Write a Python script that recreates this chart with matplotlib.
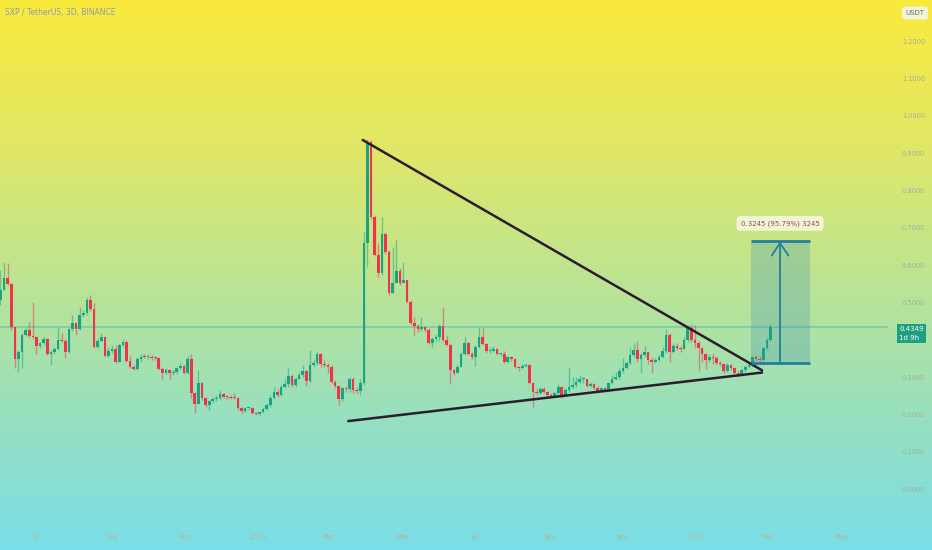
import numpy as np
import pandas as pd
import matplotlib
matplotlib.use("Agg")
import matplotlib.pyplot as plt
import matplotlib.dates as mdates
from matplotlib.patches import Rectangle

# =====================================================
# Data (SXP / USDT, 3D candles)
# =====================================================

start_date = "2022-05-31"
first_open = 0.506

close = [
    0.533, 0.564, 0.549, 0.433, 0.349, 0.367, 0.413, 0.426, 0.410, 0.406,
    0.384, 0.390, 0.401, 0.363, 0.368, 0.376, 0.399, 0.397, 0.368, 0.428,
    0.446, 0.428, 0.465, 0.471, 0.506, 0.481, 0.381, 0.397, 0.408, 0.356,
    0.370, 0.376, 0.341, 0.386, 0.394, 0.343, 0.326, 0.321, 0.347, 0.354,
    0.353, 0.354, 0.352, 0.350, 0.321, 0.312, 0.319, 0.310, 0.314, 0.323,
    0.329, 0.312, 0.347, 0.256, 0.229, 0.285,
    0.243, 0.225, 0.237, 0.240, 0.243, 0.254, 0.247, 0.246, 0.245, 0.243,
    0.216, 0.210, 0.216, 0.218, 0.203, 0.201, 0.207, 0.214, 0.225, 0.243,
    0.261, 0.252, 0.272, 0.281, 0.304, 0.279, 0.296, 0.305, 0.317, 0.290,
    0.332, 0.337, 0.362, 0.335, 0.332, 0.326, 0.288, 0.276, 0.240, 0.270,
    0.267, 0.296, 0.265, 0.263, 0.285, 0.658, 0.930, 0.728, 0.627, 0.578,
    0.683, 0.636, 0.524,
    0.553, 0.585, 0.551, 0.560, 0.502, 0.444, 0.437, 0.428, 0.433, 0.426,
    0.392, 0.401, 0.408, 0.437, 0.399, 0.386, 0.319, 0.312, 0.328, 0.362,
    0.392, 0.362, 0.353, 0.380, 0.406, 0.388, 0.371, 0.371, 0.375, 0.362,
    0.362, 0.341, 0.353, 0.347, 0.328, 0.323, 0.330, 0.332, 0.285, 0.261,
    0.258, 0.267, 0.261, 0.252, 0.249, 0.256, 0.274, 0.252, 0.265, 0.272,
    0.279, 0.288,
    0.294, 0.296, 0.276, 0.281, 0.270, 0.263, 0.270, 0.265, 0.283, 0.296,
    0.299, 0.317, 0.323, 0.337, 0.359, 0.372, 0.347, 0.359, 0.366, 0.346,
    0.340, 0.346, 0.353, 0.371, 0.413, 0.368, 0.384, 0.377, 0.374, 0.399,
    0.430, 0.399, 0.392, 0.377, 0.362, 0.346, 0.353, 0.350, 0.337, 0.335,
    0.317, 0.332, 0.323, 0.312, 0.305, 0.319, 0.328, 0.332, 0.353, 0.347,
    0.346, 0.377, 0.399, 0.4349,
]

high = [
    0.587, 0.609, 0.605, 0.551, 0.433, 0.372, 0.417, 0.430, 0.448, 0.502,
    0.410, 0.395, 0.406, 0.404, 0.372, 0.381, 0.435, 0.417, 0.401, 0.430,
    0.466, 0.448, 0.488, 0.480, 0.515, 0.521, 0.497, 0.404, 0.417, 0.410,
    0.381, 0.386, 0.386, 0.392, 0.401, 0.399, 0.359, 0.332, 0.353, 0.363,
    0.362, 0.363, 0.359, 0.356, 0.353, 0.326, 0.323, 0.321, 0.319, 0.328,
    0.337, 0.333, 0.356, 0.362, 0.261, 0.319,
    0.287, 0.247, 0.238, 0.247, 0.252, 0.265, 0.258, 0.252, 0.252, 0.258,
    0.247, 0.220, 0.220, 0.222, 0.220, 0.207, 0.210, 0.219, 0.231, 0.252,
    0.272, 0.267, 0.279, 0.294, 0.326, 0.308, 0.301, 0.314, 0.332, 0.319,
    0.372, 0.345, 0.368, 0.365, 0.345, 0.337, 0.332, 0.292, 0.279, 0.274,
    0.274, 0.299, 0.301, 0.274, 0.296, 0.689, 0.937, 0.935, 0.734, 0.658,
    0.728, 0.689, 0.640,
    0.649, 0.669, 0.591, 0.607, 0.560, 0.506, 0.462, 0.442, 0.462, 0.437,
    0.430, 0.406, 0.415, 0.442, 0.487, 0.413, 0.390, 0.321, 0.332, 0.368,
    0.408, 0.395, 0.368, 0.386, 0.435, 0.430, 0.392, 0.381, 0.383, 0.377,
    0.368, 0.371, 0.356, 0.356, 0.350, 0.329, 0.335, 0.337, 0.335, 0.287,
    0.270, 0.274, 0.272, 0.263, 0.256, 0.261, 0.281, 0.276, 0.270, 0.328,
    0.301, 0.301,
    0.305, 0.301, 0.294, 0.288, 0.285, 0.276, 0.274, 0.272, 0.288, 0.305,
    0.314, 0.323, 0.350, 0.344, 0.377, 0.392, 0.397, 0.365, 0.383, 0.368,
    0.353, 0.350, 0.362, 0.381, 0.428, 0.417, 0.392, 0.390, 0.383, 0.408,
    0.439, 0.442, 0.439, 0.397, 0.381, 0.365, 0.363, 0.365, 0.355, 0.344,
    0.337, 0.338, 0.335, 0.328, 0.317, 0.323, 0.332, 0.338, 0.356, 0.359,
    0.356, 0.381, 0.406, 0.442,
]

low = [
    0.493, 0.533, 0.546, 0.426, 0.323, 0.314, 0.323, 0.410, 0.406, 0.401,
    0.363, 0.379, 0.386, 0.359, 0.332, 0.363, 0.372, 0.395, 0.350, 0.365,
    0.424, 0.413, 0.426, 0.462, 0.466, 0.478, 0.379, 0.379, 0.395, 0.354,
    0.354, 0.365, 0.338, 0.341, 0.381, 0.340, 0.323, 0.319, 0.319, 0.341,
    0.350, 0.349, 0.346, 0.346, 0.319, 0.292, 0.308, 0.296, 0.305, 0.308,
    0.319, 0.308, 0.308, 0.243, 0.204, 0.228,
    0.238, 0.220, 0.212, 0.231, 0.237, 0.238, 0.245, 0.242, 0.242, 0.240,
    0.213, 0.203, 0.207, 0.213, 0.200, 0.198, 0.198, 0.204, 0.212, 0.220,
    0.240, 0.247, 0.249, 0.270, 0.274, 0.274, 0.274, 0.294, 0.301, 0.276,
    0.287, 0.328, 0.332, 0.328, 0.326, 0.311, 0.283, 0.270, 0.225, 0.237,
    0.261, 0.261, 0.258, 0.256, 0.252, 0.279, 0.596, 0.722, 0.624, 0.569,
    0.573, 0.629, 0.520,
    0.524, 0.551, 0.546, 0.551, 0.499, 0.439, 0.413, 0.421, 0.424, 0.421,
    0.388, 0.381, 0.395, 0.397, 0.395, 0.383, 0.281, 0.305, 0.312, 0.326,
    0.359, 0.359, 0.347, 0.329, 0.377, 0.386, 0.365, 0.365, 0.368, 0.359,
    0.356, 0.337, 0.337, 0.344, 0.323, 0.317, 0.321, 0.326, 0.281, 0.221,
    0.252, 0.254, 0.256, 0.247, 0.243, 0.245, 0.249, 0.245, 0.247, 0.261,
    0.267, 0.274,
    0.283, 0.285, 0.272, 0.272, 0.267, 0.258, 0.261, 0.261, 0.263, 0.281,
    0.292, 0.294, 0.311, 0.321, 0.332, 0.353, 0.341, 0.311, 0.353, 0.335,
    0.311, 0.338, 0.344, 0.350, 0.365, 0.341, 0.365, 0.372, 0.368, 0.374,
    0.395, 0.395, 0.377, 0.317, 0.341, 0.321, 0.341, 0.335, 0.332, 0.330,
    0.311, 0.314, 0.319, 0.308, 0.301, 0.303, 0.314, 0.323, 0.330, 0.344,
    0.341, 0.344, 0.372, 0.397,
]

last_price = 0.4349
countdown = "1d 9h"

# drawn trend lines (date, price)
upper_line_dates = ["2023-03-29", "2024-02-25"]
upper_line_prices = [0.935, 0.318]
lower_line_dates = ["2023-03-17", "2024-02-25"]
lower_line_prices = [0.182, 0.312]

# price range measure tool
measure_dates = ["2024-02-16", "2024-04-05"]
measure_mid = "2024-03-11"
measure_low = 0.3388
measure_high = 0.6633
measure_text = "0.3245 (95.79%) 3245"

# 0.4000 sits under the last-price label, so it is not shown
price_ticks = [0.0, 0.1, 0.2, 0.3, 0.5, 0.6, 0.7, 0.8, 0.9, 1.0, 1.1, 1.2]

time_ticks = [
    "2022-07-01", "2022-09-01", "2022-11-01", "2023-01-01",
    "2023-03-01", "2023-05-01", "2023-07-01", "2023-09-01",
    "2023-11-01", "2024-01-01", "2024-03-01", "2024-05-01",
]
time_labels = ["Jul", "Sep", "Nov", "2023", "Mar", "May",
               "Jul", "Sep", "Nov", "2024", "Mar", "May"]

# =====================================================
# Figure + gradient background
# =====================================================

W, H = 932, 550
fig = plt.figure(figsize=(W/100, H/100), dpi=100)

stops = np.array([0.0, 0.25, 0.5, 0.75, 1.0])
stop_rgb = np.array([
    [250, 234, 60],
    [226, 232, 100],
    [190, 228, 145],
    [152, 224, 190],
    [122, 222, 232],
]) / 255.0

t = np.linspace(0, 1, H)
grad = np.stack([np.interp(t, stops, stop_rgb[:, k]) for k in range(3)], axis=1)
grad = np.repeat(grad[:, None, :], 2, axis=1)

bg = fig.add_axes([0, 0, 1, 1])
bg.imshow(grad, aspect="auto", extent=[0, 1, 0, 1])
bg.axis("off")

ax = fig.add_axes([0, 30/H, 888/W, 520/H])
ax.set_facecolor("none")
for s in ax.spines.values():
    s.set_visible(False)

# =====================================================
# Candles
# =====================================================

c = np.array(close)
o = np.r_[first_open, c[:-1]]
hi = np.maximum(np.array(high), np.maximum(o, c))
lo = np.minimum(np.array(low), np.minimum(o, c))

dates = pd.date_range(start_date, periods=len(c), freq="3D")
x = mdates.date2num(dates)

up = c >= o
green = "#1aa383"
red = "#f0334b"
body_col = np.where(up, green, red)

ax.vlines(x, lo, hi, colors=body_col, linewidth=1.0, alpha=0.5, zorder=2)
ax.bar(
    x,
    np.maximum(np.abs(c-o), 0.0025),
    bottom=np.minimum(o, c),
    width=2.2,
    color=body_col,
    linewidth=0,
    zorder=3
)

# last price line
ax.axhline(last_price, color="#62c3a3", linewidth=1.4, alpha=0.6, zorder=1)

# =====================================================
# Trend lines
# =====================================================

ax.plot(pd.to_datetime(upper_line_dates), upper_line_prices,
        color="#2c1c2e", linewidth=1.8, solid_capstyle="round", zorder=4)
ax.plot(pd.to_datetime(lower_line_dates), lower_line_prices,
        color="#2c1c2e", linewidth=1.8, solid_capstyle="round", zorder=4)

# =====================================================
# Measure tool
# =====================================================

mx0, mx1 = mdates.date2num(pd.to_datetime(measure_dates))
mmid = mdates.date2num(pd.Timestamp(measure_mid))
tool_col = "#20809e"

ax.add_patch(Rectangle((mx0, measure_low), mx1-mx0, measure_high-measure_low,
                       facecolor="#4b98b0", alpha=0.3, linewidth=0, zorder=2))
ax.hlines([measure_low, measure_high], mx0, mx1, colors=tool_col,
          linewidth=2.0, zorder=5)
ax.annotate(
    "",
    xy=(mmid, measure_high),
    xytext=(mmid, measure_low),
    arrowprops=dict(arrowstyle="->,head_length=0.9,head_width=0.6",
                    color=tool_col, lw=1.3, shrinkA=0, shrinkB=0),
    zorder=5
)
ax.annotate(
    measure_text,
    xy=(mmid, measure_high),
    xytext=(0, 18),
    textcoords="offset pixels",
    ha="center",
    va="center",
    fontsize=5,
    color="#9a4a4a",
    bbox=dict(boxstyle="round,pad=0.6", fc="#f1f4d6", ec="none"),
    zorder=6
)

# =====================================================
# Axes
# =====================================================

ax.set_xlim(mdates.date2num(pd.Timestamp("2022-05-30 14:00")),
            mdates.date2num(pd.Timestamp("2024-06-09")))
ax.set_ylim(-0.083, 1.31)

ax.yaxis.tick_right()
ax.set_yticks(price_ticks)
ax.set_yticklabels([f"{v:.4f}" for v in price_ticks])
ax.tick_params(axis="y", length=0, pad=10, labelsize=4.8, labelcolor="#a3ad9f")

ax.set_xticks(mdates.date2num(pd.to_datetime(time_ticks)))
ax.set_xticklabels(time_labels)
ax.tick_params(axis="x", length=0, pad=10, labelsize=4.8, labelcolor="#b3b39a")

# price label
ax.annotate(
    f"{last_price:.4f}\n{countdown}",
    xy=(1, last_price),
    xycoords=("axes fraction", "data"),
    xytext=(11, -7),
    textcoords="offset pixels",
    ha="left",
    va="center",
    fontsize=5,
    color="white",
    linespacing=1.5,
    bbox=dict(boxstyle="square,pad=0.35", fc="#1f9e80", ec="none"),
    annotation_clip=False,
    zorder=7
)

fig.text(5/W, 1-13/H, "SXP / TetherUS, 3D, BINANCE",
         fontsize=5.5, color="#8c9cb0", va="center")
fig.text(915/W, 1-13/H, "USDT", ha="center", va="center",
         fontsize=5, color="#6a7068",
         bbox=dict(boxstyle="round,pad=0.5", fc="#f3f5d8", ec="none"))

fig.savefig("out.png", dpi=100)
print("Saved: out.png")
